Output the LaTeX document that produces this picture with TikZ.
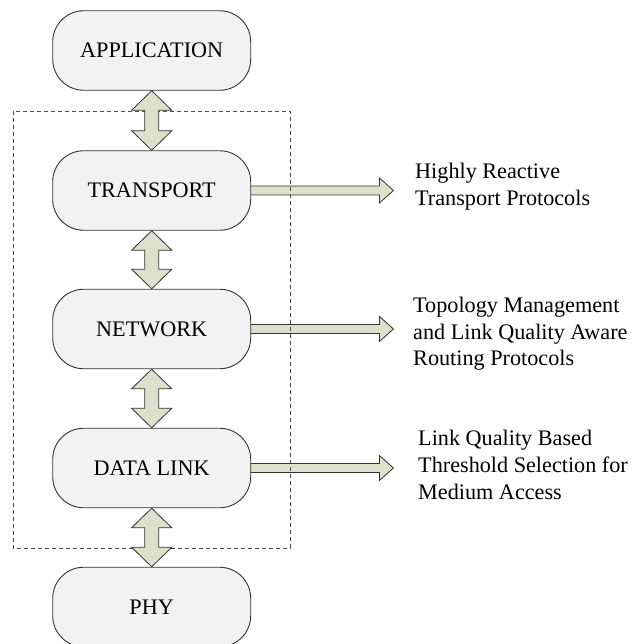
\documentclass[tikz,border=0pt]{standalone}
\usepackage{fontspec}
\setmainfont{Liberation Serif}
\usetikzlibrary{calc,backgrounds}
\definecolor{boxfill}{HTML}{F2F2F2}
\definecolor{arrowfill}{HTML}{DDE1CC}

% vertical double arrow between two stacked layers
\newcommand\layerlink[2]{%
  \draw[dblarrow] (#1.south)
    -- ($(#1.south)+(20pt,-19.5pt)$) -- ($(#1.south)+(7pt,-19.5pt)$)
    -- ($(#2.north)+(7pt,19.5pt)$) -- ($(#2.north)+(20pt,19.5pt)$)
    -- (#2.north)
    -- ($(#2.north)+(-20pt,19.5pt)$) -- ($(#2.north)+(-7pt,19.5pt)$)
    -- ($(#1.south)+(-7pt,-19.5pt)$) -- ($(#1.south)+(-20pt,-19.5pt)$)
    -- cycle;}

% block arrow from a layer's right side to a tip coordinate
\newcommand\notearrow[2]{%
  \draw[dblarrow] ($(#1.east)+(-5pt,4.5pt)$)
    -- ($(#2)+(-14pt,4.5pt)$) -- ($(#2)+(-14pt,12.5pt)$)
    -- (#2)
    -- ($(#2)+(-14pt,-12.5pt)$) -- ($(#2)+(-14pt,-4.5pt)$)
    -- ($(#1.east)+(-5pt,-4.5pt)$) -- cycle;}

\begin{document}
\begin{tikzpicture}[x=1pt,y=1pt,
  layer/.style={draw=black!80, fill=boxfill, rounded corners=31pt,
    minimum width=198pt, minimum height=79.5pt, inner sep=0pt,
    line width=0.9pt, font=\fontsize{22.2}{26}\selectfont},
  dblarrow/.style={draw=black!80, fill=arrowfill, line width=0.8pt, line join=miter},
  note/.style={anchor=north west, inner sep=0pt, align=left,
    font=\fontsize{22.2}{26.7}\selectfont},
  outline/.style={draw=black!70, dash pattern=on 4pt off 3pt, line width=0.8pt}]
\useasboundingbox (0,0) rectangle (635,-644);

% protocol layers
\node[layer] (app)   at (151.7,-50.5) {APPLICATION};
\node[layer] (trans) at (151.7,-190.5) {TRANSPORT};
\node[layer] (net)   at (151.7,-329) {NETWORK};
\node[layer] (dl)    at (151.7,-468) {DATA LINK};
\node[layer] (phy)   at (151.7,-607) {PHY};

% tips of the side arrows
\coordinate (ttip) at ($(trans.east)+(142.3pt,0)$);
\coordinate (ntip) at ($(net.east)+(142.3pt,0)$);
\coordinate (dtip) at ($(dl.east)+(142.3pt,0)$);

% annotations
\node[note] (tlabel) at (415,-162.7) {Highly Reactive\\Transport Protocols};
\node[note] (nlabel) at (413,-296.7) {Topology Management\\and Link Quality Aware\\Routing Protocols};
\node[note] (dlabel) at (418,-430) {Link Quality Based\\Threshold Selection for\\Medium Access};

\begin{pgfonlayer}{background}
  \notearrow{trans}{ttip}
  \notearrow{net}{ntip}
  \notearrow{dl}{dtip}
  % cross-layer region
  \draw[outline] (13,-111) rectangle (290,-548);
  \layerlink{app}{trans}
  \layerlink{trans}{net}
  \layerlink{net}{dl}
  \layerlink{dl}{phy}
\end{pgfonlayer}
\end{tikzpicture}
\end{document}
